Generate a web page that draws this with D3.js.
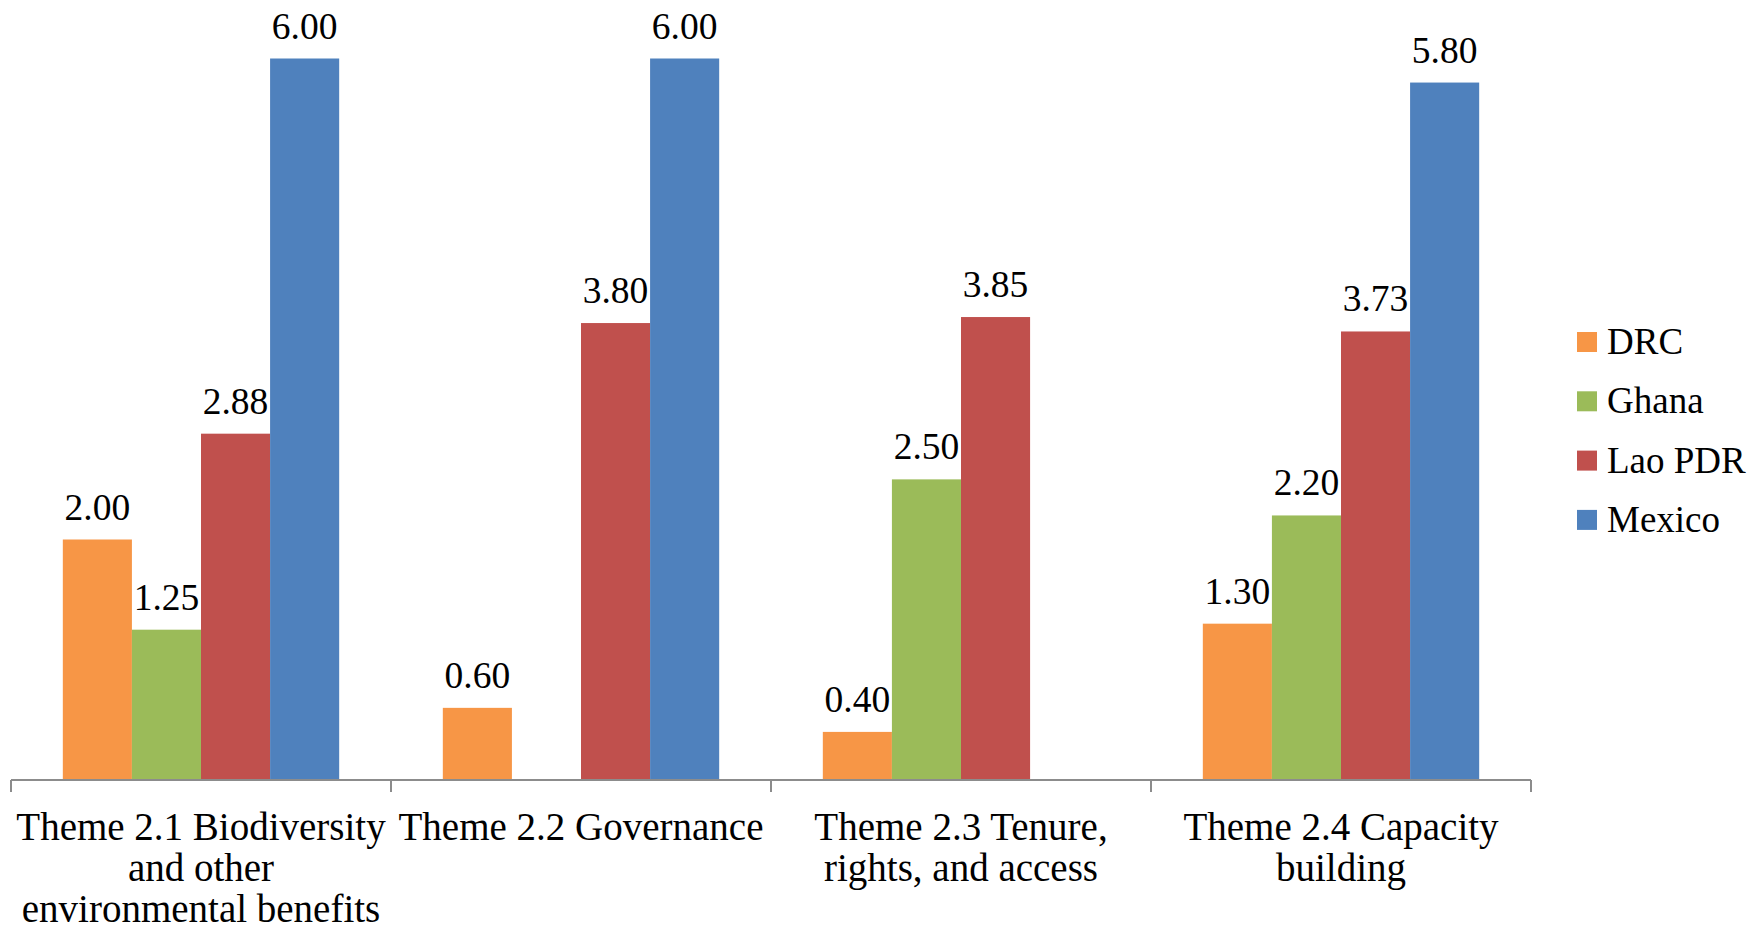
<!DOCTYPE html>
<html>
<head>
<meta charset="utf-8">
<script src="https://cdn.jsdelivr.net/npm/d3@7"></script>
<style>
  html, body { margin: 0; padding: 0; background: #fff; }
  svg { display: block; }
  text { font-family: "Liberation Serif", "Times New Roman", serif; fill: #000; }
</style>
</head>
<body>
<svg id="chart" width="1756" height="932"></svg>
<script>
// ---- data ----
const categories = [
  "Theme 2.1 Biodiversity\nand other\nenvironmental benefits",
  "Theme 2.2 Governance",
  "Theme 2.3 Tenure,\nrights, and access",
  "Theme 2.4 Capacity\nbuilding"
];
const seriesNames = ["DRC", "Ghana", "Lao PDR", "Mexico"];
const seriesColors = ["#F79646", "#9BBB59", "#C0504D", "#4F81BD"];
const drcValues    = [2.00, 0.60, 0.40, 1.30];
const ghanaValues  = [1.25, null, 2.50, 2.20];
const laoValues    = [2.88, 3.80, 3.85, 3.73];
const mexicoValues = [6.00, 6.00, null, 5.80];
const yDomain = [0, 6];

const seriesValues = [drcValues, ghanaValues, laoValues, mexicoValues];

// ---- layout ----
const svg = d3.select("#chart");
const plot = { left: 11, right: 1531, bottom: 780, top6: 58.5 };
const fontSize = 37;
const catFontSize = 39;

const x0 = d3.scaleBand().domain(d3.range(categories.length))
  .range([plot.left, plot.right]).paddingInner(0).paddingOuter(0);
const x1 = d3.scaleBand().domain(d3.range(seriesNames.length))
  .range([0, x0.bandwidth()]).paddingInner(0).paddingOuter(0.75);
const y = d3.scaleLinear().domain(yDomain).range([plot.bottom, plot.top6]);

// bars
const rows = [];
categories.forEach((c, ci) => {
  seriesValues.forEach((vals, si) => {
    if (vals[ci] != null) rows.push({ ci, si, v: vals[ci] });
  });
});

svg.append("g").selectAll("rect").data(rows).join("rect")
  .attr("x", d => x0(d.ci) + x1(d.si))
  .attr("width", x1.bandwidth())
  .attr("y", d => y(d.v))
  .attr("height", d => y(0) - y(d.v))
  .attr("fill", d => seriesColors[d.si]);

// data labels
svg.append("g").selectAll("text").data(rows).join("text")
  .attr("x", d => x0(d.ci) + x1(d.si) + x1.bandwidth() / 2)
  .attr("y", d => y(d.v) - 20)
  .attr("text-anchor", "middle")
  .attr("font-size", 37.5)
  .text(d => d.v.toFixed(2));

// x axis
const axisG = svg.append("g").attr("transform", `translate(0,${plot.bottom})`);
axisG.append("line")
  .attr("x1", plot.left).attr("x2", plot.right)
  .attr("y1", 0).attr("y2", 0)
  .attr("stroke", "#8C8C8C").attr("stroke-width", 2);
const tickPos = d3.range(categories.length + 1).map(i =>
  i < categories.length ? x0(i) : plot.right);
axisG.selectAll("line.tick").data(tickPos).join("line")
  .attr("class", "tick")
  .attr("x1", d => d).attr("x2", d => d)
  .attr("y1", 0).attr("y2", 12)
  .attr("stroke", "#8C8C8C").attr("stroke-width", 2);

// category labels
const labG = svg.append("g");
categories.forEach((c, ci) => {
  const t = labG.append("text")
    .attr("x", x0(ci) + x0.bandwidth() / 2)
    .attr("y", 840)
    .attr("text-anchor", "middle")
    .attr("font-size", catFontSize);
  c.split("\n").forEach((line, li) => {
    t.append("tspan")
      .attr("x", x0(ci) + x0.bandwidth() / 2)
      .attr("y", 840 + li * 41)
      .text(line);
  });
});

// legend
const legend = svg.append("g");
seriesNames.forEach((name, i) => {
  const cy = 342 + i * 59.3;
  legend.append("rect")
    .attr("x", 1577).attr("y", cy - 10)
    .attr("width", 20).attr("height", 20)
    .attr("fill", seriesColors[i]);
  legend.append("text")
    .attr("x", 1607).attr("y", cy + 12)
    .attr("font-size", fontSize)
    .text(name);
});
</script>
</body>
</html>
